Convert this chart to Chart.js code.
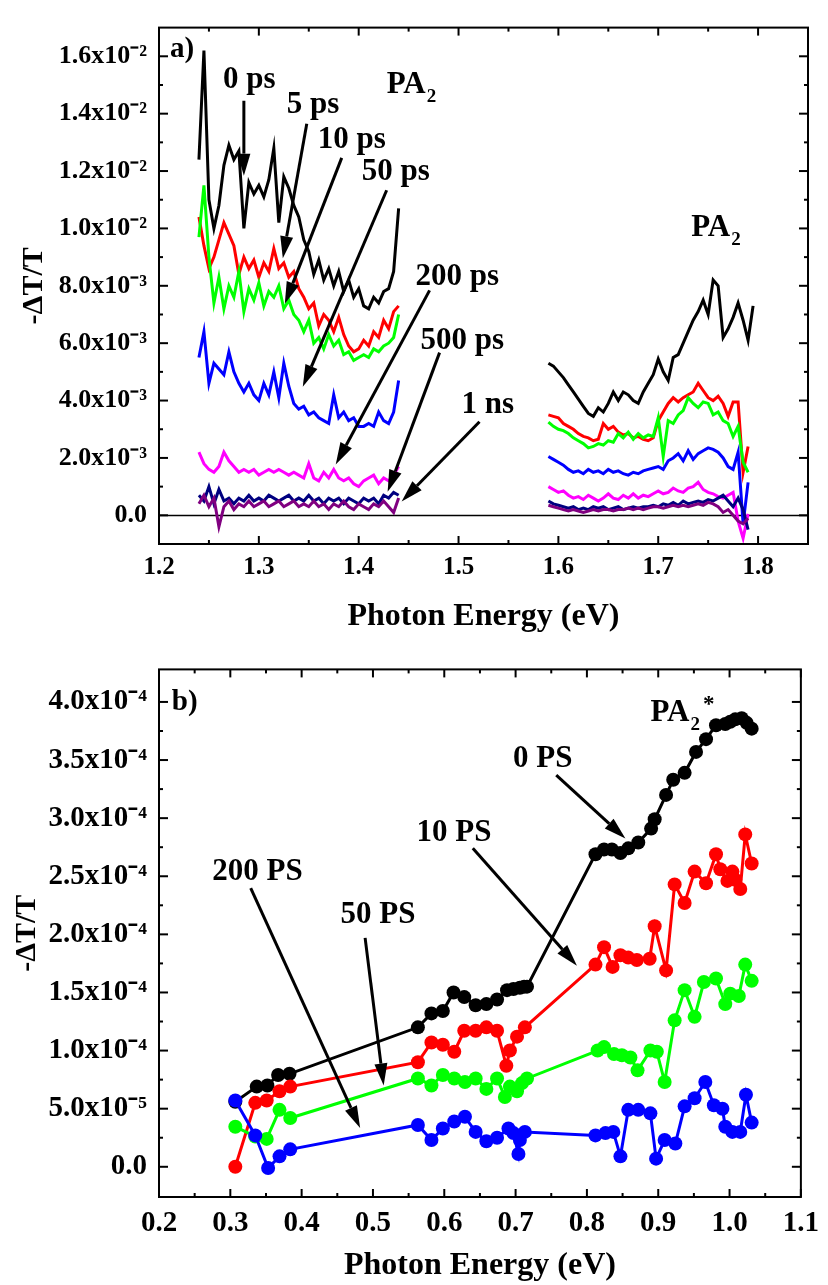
<!DOCTYPE html>
<html>
<head>
<meta charset="utf-8">
<script src="https://cdn.jsdelivr.net/npm/chart.js@4.4.1/dist/chart.umd.min.js"></script>
<style>
  body { margin: 0; background: #fff; }
  canvas { display: block; }
</style>
</head>
<body>
<canvas id="chartA" width="828" height="640"></canvas>
<canvas id="chartB" width="828" height="645"></canvas>
<script>
// ---- panel a: -dT/T spectra, values in units of 1e-3 ----
const energyLeft = [1.240,1.245,1.250,1.255,1.260,1.265,1.270,1.275,1.280,1.285,1.290,1.295,1.300,1.305,1.310,1.315,1.320,1.325,1.330,1.335,
  1.340,1.345,1.350,1.355,1.360,1.365,1.370,1.375,1.380,1.385,1.390,1.395,1.400,1.405,1.410,1.415,1.420,1.425,1.430,1.435,1.440];
const energyRight = [1.590,1.595,1.600,1.605,1.610,1.615,1.620,1.625,1.630,1.635,1.640,1.645,1.650,1.655,1.660,1.665,1.670,1.675,1.680,1.685,
  1.690,1.695,1.700,1.705,1.710,1.715,1.720,1.725,1.730,1.735,1.740,1.745,1.750,1.755,1.760,1.765,1.770,1.775,1.780,1.785,1.790,1.795];

const ps0Left   = [12.4,16.2,11.0,10.0,10.8,12.2,12.9,12.4,12.7,10.0,11.6,11.2,11.5,11.1,11.7,12.8,10.2,11.8,11.4,10.8,10.4,9.6,9.2,8.4,8.9,8.2,8.6,8.0,8.5,7.8,8.2,7.6,7.9,7.3,7.2,7.6,7.4,7.8,7.9,8.5,10.7];
const ps5Left   = [10.4,9.4,8.6,9.0,9.6,10.2,9.8,9.4,8.4,9.0,8.6,8.9,8.3,8.8,8.5,9.3,8.6,8.8,8.3,8.5,7.9,7.6,7.2,7.4,6.6,7.0,6.8,6.4,6.9,6.3,5.9,5.7,5.8,6.1,5.9,6.4,6.2,6.8,6.5,7.1,7.3];
const ps10Left  = [9.7,11.5,9.0,7.4,8.3,7.2,8.0,7.6,8.5,7.1,7.9,7.5,8.1,7.3,7.8,7.6,8.0,7.2,7.5,7.0,6.8,6.4,6.8,6.0,6.2,5.8,6.3,5.9,6.1,5.6,5.7,5.4,5.5,5.6,5.5,5.8,5.7,5.9,6.0,6.2,7.0];
const ps50Left  = [5.5,6.4,4.6,5.3,5.1,4.9,5.7,5.0,4.6,4.3,4.6,4.2,4.0,4.6,4.2,5.0,4.1,5.3,4.5,3.9,3.7,3.8,3.5,3.6,3.4,3.3,3.2,4.2,3.4,3.6,3.3,3.4,3.1,3.1,3.2,3.1,3.6,3.3,3.2,3.6,4.7];
const ps200Left = [2.2,1.8,1.6,1.5,1.7,2.2,1.9,1.7,1.5,1.6,1.5,1.6,1.4,1.5,1.6,1.5,1.6,1.5,1.4,1.5,1.4,1.3,1.8,1.3,1.2,1.5,1.3,1.6,1.3,1.2,1.3,1.1,1.0,1.2,1.3,1.4,1.1,1.3,1.2,1.4,1.7];
const ps500Left = [0.7,0.5,1.0,0.4,0.9,0.5,0.6,0.4,0.6,0.5,0.7,0.5,0.6,0.5,0.7,0.6,0.5,0.6,0.7,0.5,0.6,0.5,0.7,0.5,0.6,0.4,0.6,0.5,0.6,0.4,0.6,0.5,0.4,0.6,0.5,0.6,0.4,0.7,0.6,0.8,0.7];
const ns1Left   = [0.4,0.7,0.3,0.6,-0.4,0.3,0.5,0.2,0.4,0.3,0.5,0.3,0.4,0.5,0.3,0.4,0.5,0.3,0.4,0.5,0.3,0.4,0.3,0.5,0.3,0.4,0.2,0.4,0.3,0.5,0.3,0.2,0.4,0.3,0.2,0.4,0.3,0.5,0.3,0.1,0.6];

const ps0Right   = [5.3,5.2,5.0,4.8,4.55,4.3,4.05,3.8,3.55,3.45,3.75,3.6,3.9,4.3,4.0,4.3,4.2,4.0,3.9,4.3,4.6,4.9,5.45,5.0,4.7,5.5,5.6,6.0,6.4,6.8,7.1,7.5,7.0,8.2,8.0,6.2,6.5,6.9,7.4,6.8,6.1,7.3];
const ps5Right   = [3.5,3.45,3.4,3.2,3.1,3.0,2.85,2.75,2.7,2.6,2.65,3.2,3.0,3.1,2.9,2.8,2.85,2.7,2.75,2.65,2.6,2.7,3.3,3.6,3.9,4.1,3.95,4.1,4.2,4.3,4.6,4.35,4.1,4.0,4.15,3.9,3.45,3.95,3.95,1.5,2.4,null];
const ps10Right  = [3.25,3.1,3.0,2.95,2.85,2.7,2.6,2.5,2.35,2.4,2.5,2.45,2.6,2.55,2.85,2.7,2.9,2.65,2.85,2.7,2.8,2.75,3.4,2.05,3.3,3.2,3.5,3.65,4.1,3.9,3.75,3.95,3.9,3.5,3.6,3.3,3.2,2.75,3.1,1.85,1.5,null];
const ps50Right  = [2.05,1.95,1.85,1.75,1.6,1.5,1.55,1.45,1.6,1.5,1.55,1.45,1.6,1.5,1.55,1.45,1.4,1.5,1.45,1.55,1.6,1.65,1.7,1.6,1.9,2.0,2.15,1.9,2.25,1.95,2.15,2.25,2.35,2.3,2.2,2.0,1.7,1.6,2.2,-0.3,1.15,null];
const ps200Right = [1.0,0.9,0.8,0.85,0.7,0.6,0.65,0.55,0.7,0.6,0.5,0.6,0.75,0.6,0.55,0.7,0.6,0.75,0.6,0.7,0.65,0.75,0.85,0.75,0.8,0.95,0.85,0.8,0.95,1.0,1.15,0.9,0.8,0.75,0.65,0.6,0.7,0.8,-0.2,-0.8,0.05,null];
const ps500Right = [0.5,0.4,0.35,0.3,0.25,0.3,0.2,0.25,0.2,0.3,0.25,0.3,0.2,0.25,0.3,0.2,0.25,0.3,0.25,0.3,0.3,0.35,0.3,0.4,0.35,0.45,0.35,0.5,0.4,0.45,0.5,0.45,0.55,0.5,0.6,0.7,0.5,0.3,0.6,0.2,-0.5,null];
const ns1Right   = [0.35,0.3,0.25,0.2,0.15,0.2,0.15,0.1,0.15,0.2,0.15,0.2,0.2,0.15,0.2,0.2,0.25,0.2,0.25,0.2,0.25,0.3,0.3,0.25,0.3,0.35,0.3,0.35,0.3,0.35,0.4,0.35,0.45,0.4,0.3,0.1,0.2,0.0,-0.2,-0.3,-0.1,null];

const yTicksA = [0, 2, 4, 6, 8, 10, 12, 14, 16];
const yLabelsA = ['0.0', '2.0x10⁻³', '4.0x10⁻³', '6.0x10⁻³', '8.0x10⁻³', '1.0x10⁻²', '1.2x10⁻²', '1.4x10⁻²', '1.6x10⁻²'];
const xTicksA = [1.2, 1.3, 1.4, 1.5, 1.6, 1.7, 1.8];

// ---- panel b: -dT/T with markers, values in units of 1e-5 ----
const energyB0 = [0.307,0.337,0.352,0.367,0.383,0.563,0.582,0.598,0.613,0.628,0.644,0.659,0.674,0.688,0.697,0.706,0.712,0.716,
  0.812,0.824,0.835,0.847,0.858,0.872,0.890,0.895,0.911,0.921,0.937,0.953,0.967,0.981,0.994,1.001,1.008,1.017,1.024,1.031];
const ps0B = [5.6,6.9,7.0,7.9,8.0,12.0,13.2,13.4,15.0,14.6,13.9,14.0,14.4,15.2,15.3,15.4,15.5,15.5,
  26.9,27.3,27.3,27.0,27.4,27.9,29.1,29.9,32.0,33.3,33.9,35.7,36.8,38.0,38.1,38.3,38.5,38.6,38.2,37.7];

const energyB10 = [0.307,0.335,0.351,0.369,0.384,0.563,0.582,0.598,0.614,0.628,0.644,0.659,0.674,0.687,0.692,0.702,0.713,
  0.812,0.824,0.836,0.847,0.858,0.870,0.888,0.895,0.911,0.923,0.937,0.951,0.967,0.981,0.987,0.997,1.004,1.008,1.015,1.022,1.031];
const ps10B = [0.0,5.5,5.7,6.5,6.9,9.0,10.7,10.5,9.9,11.7,11.7,12.0,11.7,8.7,10.0,11.2,12.0,
  17.4,18.9,17.2,18.2,18.0,17.8,17.9,20.7,16.9,24.3,22.7,25.4,24.4,26.9,25.6,24.6,25.4,24.7,23.9,28.6,26.1];

const energyB50 = [0.307,0.335,0.351,0.369,0.384,0.563,0.582,0.598,0.614,0.629,0.644,0.659,0.674,0.685,0.692,0.702,0.709,0.716,
  0.815,0.824,0.838,0.849,0.861,0.871,0.889,0.898,0.909,0.923,0.937,0.951,0.964,0.981,0.994,1.001,1.013,1.022,1.031];
const ps50B = [3.45,2.6,2.4,4.9,4.2,7.6,7.0,7.9,7.6,7.3,7.6,6.7,7.6,6.0,6.9,6.5,7.2,7.6,
  10.0,10.3,9.7,9.6,9.4,8.3,10.0,9.9,7.3,12.6,15.2,12.9,15.9,16.2,14.0,14.9,14.7,17.4,16.0];

const energyB200 = [0.307,0.335,0.353,0.369,0.384,0.563,0.582,0.598,0.614,0.629,0.644,0.659,0.674,0.690,0.697,0.704,0.706,0.713,
  0.812,0.826,0.837,0.847,0.858,0.872,0.889,0.897,0.909,0.924,0.937,0.951,0.966,0.978,0.990,0.994,1.004,1.015,1.023,1.031];
const ps200B = [5.7,2.7,-0.1,0.9,1.5,3.6,2.3,3.3,3.9,4.3,3.0,2.2,2.5,3.3,2.9,1.1,2.3,3.0,
  2.7,2.9,3.0,0.9,4.9,4.9,4.6,0.7,2.3,2.0,5.2,5.9,7.3,5.3,5.0,3.45,3.0,3.0,6.2,3.8];

const yTicksB = [0, 5, 10, 15, 20, 25, 30, 35, 40];
const yLabelsB = ['0.0', '5.0x10⁻⁵', '1.0x10⁻⁴', '1.5x10⁻⁴', '2.0x10⁻⁴', '2.5x10⁻⁴', '3.0x10⁻⁴', '3.5x10⁻⁴', '4.0x10⁻⁴'];
const xTicksB = [0.2, 0.3, 0.4, 0.5, 0.6, 0.7, 0.8, 0.9, 1.0, 1.1];

const SERIF = "'Liberation Serif', 'Times New Roman', serif";
Chart.defaults.font.family = SERIF;
Chart.defaults.font.weight = 'bold';
Chart.defaults.color = '#000';

// two probe windows of panel a, joined with a gap so the line breaks
function joinSegments(left, right) {
  const pts = left.map((v, i) => ({x: energyLeft[i], y: v}));
  pts.push({x: 1.515, y: null});
  right.forEach((v, i) => pts.push({x: energyRight[i], y: v}));
  return pts;
}
function pairs(xs, ys) {
  return ys.map((v, i) => ({x: xs[i], y: v}));
}

// box frame with inward major/minor ticks on all four sides
const frameTicks = {
  id: 'frameTicks',
  beforeDatasetsDraw(chart, args, opts) {
    if (!opts.zero) return;
    const {ctx, chartArea: a, scales: {y}} = chart;
    const py = Math.round(y.getPixelForValue(0)) + 0.5;
    ctx.save();
    ctx.strokeStyle = '#000';
    ctx.lineWidth = 1.5;
    ctx.beginPath();
    ctx.moveTo(a.left, py);
    ctx.lineTo(a.right, py);
    ctx.stroke();
    ctx.restore();
  },
  afterDatasetsDraw(chart, args, opts) {
    const {ctx, chartArea: a, scales: {x, y}} = chart;
    ctx.save();
    ctx.strokeStyle = '#000';
    ctx.lineWidth = 2;
    ctx.strokeRect(a.left, a.top, a.right - a.left, a.bottom - a.top);
    const seg = (x1, y1, x2, y2) => {
      ctx.beginPath(); ctx.moveTo(x1, y1); ctx.lineTo(x2, y2); ctx.stroke();
    };
    const xt = (vals, len) => vals.forEach(v => {
      const px = x.getPixelForValue(v);
      seg(px, a.bottom, px, a.bottom - len);
      seg(px, a.top, px, a.top + len);
    });
    const yt = (vals, len) => vals.forEach(v => {
      const py = y.getPixelForValue(v);
      seg(a.left, py, a.left + len, py);
      seg(a.right, py, a.right - len, py);
    });
    xt(opts.xMajor, 8); xt(opts.xMinor, 4);
    yt(opts.yMajor, 9); yt(opts.yMinor, 4);
    ctx.restore();
  }
};

function drawArrow(ctx, x1, y1, x2, y2) {
  const ang = Math.atan2(y2 - y1, x2 - x1);
  const len = 22, half = 6.5;
  const bx = x2 - len * Math.cos(ang), by = y2 - len * Math.sin(ang);
  ctx.beginPath(); ctx.moveTo(x1, y1); ctx.lineTo(bx, by); ctx.stroke();
  ctx.beginPath();
  ctx.moveTo(x2, y2);
  ctx.lineTo(bx + half * Math.sin(ang), by - half * Math.cos(ang));
  ctx.lineTo(bx - half * Math.sin(ang), by + half * Math.cos(ang));
  ctx.closePath();
  ctx.fill();
}

// delay labels and arrows, placed in data coordinates
const notes = {
  id: 'notes',
  afterDatasetsDraw(chart, args, opts) {
    const {ctx, scales: {x, y}} = chart;
    ctx.save();
    ctx.fillStyle = '#000';
    ctx.strokeStyle = '#000';
    ctx.lineWidth = 3;
    opts.arrows.forEach(a => drawArrow(ctx, x.getPixelForValue(a[0]), y.getPixelForValue(a[1]),
      x.getPixelForValue(a[2]), y.getPixelForValue(a[3])));
    ctx.textBaseline = 'alphabetic';
    ctx.textAlign = 'left';
    opts.labels.forEach(l => {
      const size = l.size || 31;
      let px = x.getPixelForValue(l.x);
      const py = y.getPixelForValue(l.y);
      ctx.font = `bold ${size}px ${SERIF}`;
      ctx.fillText(l.text, px, py);
      px += ctx.measureText(l.text).width;
      if (l.sub) {
        ctx.font = `bold ${Math.round(size * 0.62)}px ${SERIF}`;
        ctx.fillText(l.sub, px + 1, py + 9);
        px += ctx.measureText(l.sub).width + 1;
      }
      if (l.sup) {
        ctx.font = `bold ${Math.round(size * 0.75)}px ${SERIF}`;
        ctx.fillText(l.sup, px + 3, py - 10);
      }
    });
    ctx.restore();
  }
};

const seriesA = [
  {label: '0 ps', color: '#000000', left: ps0Left, right: ps0Right},
  {label: '5 ps', color: '#ff0000', left: ps5Left, right: ps5Right},
  {label: '10 ps', color: '#00ff00', left: ps10Left, right: ps10Right},
  {label: '50 ps', color: '#0000ff', left: ps50Left, right: ps50Right},
  {label: '200 ps', color: '#ff00ff', left: ps200Left, right: ps200Right},
  {label: '500 ps', color: '#000080', left: ps500Left, right: ps500Right},
  {label: '1 ns', color: '#800080', left: ns1Left, right: ns1Right}
];

new Chart(document.getElementById('chartA'), {
  type: 'line',
  data: {
    datasets: seriesA.map(s => ({
      label: s.label,
      data: joinSegments(s.left, s.right),
      borderColor: s.color,
      borderWidth: 3,
      pointRadius: 0,
      tension: 0,
      fill: false
    })).reverse()
  },
  options: {
    responsive: false,
    animation: false,
    layout: {padding: {top: 13, right: 20, left: 0, bottom: 0}},
    plugins: {
      legend: {display: false},
      tooltip: {enabled: false},
      frameTicks: {
        zero: true,
        xMajor: xTicksA,
        xMinor: [1.25, 1.35, 1.45, 1.55, 1.65, 1.75],
        yMajor: yTicksA,
        yMinor: [1, 3, 5, 7, 9, 11, 13, 15]
      },
      notes: {
        labels: [
          {text: 'a)', x: 1.211, y: 15.98, size: 29},
          {text: '0 ps', x: 1.264, y: 14.89},
          {text: '5 ps', x: 1.328, y: 14.04},
          {text: '10 ps', x: 1.359, y: 12.79},
          {text: '50 ps', x: 1.403, y: 11.68},
          {text: 'PA', sub: '2', x: 1.428, y: 14.72},
          {text: '200 ps', x: 1.457, y: 8.04},
          {text: '500 ps', x: 1.462, y: 5.81},
          {text: '1 ns', x: 1.503, y: 3.57},
          {text: 'PA', sub: '2', x: 1.733, y: 9.74}
        ],
        arrows: [
          [1.285, 14.45, 1.285, 11.84],
          [1.348, 13.65, 1.324, 8.96],
          [1.383, 12.46, 1.326, 7.37],
          [1.428, 11.33, 1.344, 4.48],
          [1.471, 7.84, 1.377, 1.77],
          [1.481, 5.67, 1.429, 0.82],
          [1.521, 3.26, 1.443, 0.48]
        ]
      }
    },
    scales: {
      x: {
        type: 'linear',
        min: 1.2,
        max: 1.85,
        afterBuildTicks: s => { s.ticks = xTicksA.map(v => ({value: v})); },
        afterFit: s => { s.height = 96; },
        grid: {display: false, drawTicks: false},
        border: {display: false},
        ticks: {padding: 9, autoSkip: false, maxRotation: 0, font: {size: 25, weight: 'bold'},
          callback: v => v.toFixed(1)},
        title: {display: true, text: 'Photon Energy (eV)', font: {size: 32, weight: 'bold'}, padding: {top: 0, bottom: 4}}
      },
      y: {
        min: -1,
        max: 17,
        afterBuildTicks: s => { s.ticks = yTicksA.map(v => ({value: v})); },
        afterFit: s => { s.width = 159; },
        grid: {display: false, drawTicks: false},
        border: {display: false},
        ticks: {padding: 12, autoSkip: false, font: {size: 26, weight: 'bold'},
          callback: (v, i) => yLabelsA[i]},
        title: {display: true, text: '-ΔT/T', font: {size: 30, weight: 'bold'}, padding: {top: 16, bottom: 0}}
      }
    }
  },
  plugins: [frameTicks, notes]
});

const seriesB = [
  {label: '200 PS', color: '#0000ff', xs: energyB200, ys: ps200B},
  {label: '50 PS', color: '#00ff00', xs: energyB50, ys: ps50B},
  {label: '10 PS', color: '#ff0000', xs: energyB10, ys: ps10B},
  {label: '0 PS', color: '#000000', xs: energyB0, ys: ps0B}
];

new Chart(document.getElementById('chartB'), {
  type: 'line',
  data: {
    datasets: seriesB.map(s => ({
      label: s.label,
      data: pairs(s.xs, s.ys),
      borderColor: s.color,
      backgroundColor: s.color,
      pointBackgroundColor: s.color,
      pointBorderColor: s.color,
      borderWidth: 3,
      pointRadius: 7,
      pointBorderWidth: 0,
      tension: 0,
      fill: false
    }))
  },
  options: {
    responsive: false,
    animation: false,
    layout: {padding: {top: 27, right: 20, left: 0, bottom: 0}},
    plugins: {
      legend: {display: false},
      tooltip: {enabled: false},
      frameTicks: {
        zero: false,
        xMajor: xTicksB,
        xMinor: [0.25, 0.35, 0.45, 0.55, 0.65, 0.75, 0.85, 0.95, 1.05],
        yMajor: yTicksB,
        yMinor: [2.5, 7.5, 12.5, 17.5, 22.5, 27.5, 32.5, 37.5]
      },
      notes: {
        labels: [
          {text: 'b)', x: 0.218, y: 39.3, size: 29},
          {text: '200 PS', x: 0.2747, y: 24.7},
          {text: '50 PS', x: 0.4545, y: 21.0},
          {text: '10 PS', x: 0.561, y: 28.0},
          {text: '0 PS', x: 0.6965, y: 34.4},
          {text: 'PA', sub: '2', sup: '*', x: 0.889, y: 38.4}
        ],
        arrows: [
          [0.3286, 23.97, 0.482, 3.34],
          [0.489, 19.7, 0.515, 7.0],
          [0.640, 27.4, 0.786, 17.3],
          [0.757, 33.7, 0.854, 28.25]
        ]
      }
    },
    scales: {
      x: {
        type: 'linear',
        min: 0.2,
        max: 1.1,
        afterBuildTicks: s => { s.ticks = xTicksB.map(v => ({value: v})); },
        afterFit: s => { s.height = 88; },
        grid: {display: false, drawTicks: false},
        border: {display: false},
        ticks: {padding: 9, autoSkip: false, maxRotation: 0, font: {size: 29, weight: 'bold'},
          callback: v => v.toFixed(1)},
        title: {display: true, text: 'Photon Energy (eV)', font: {size: 32, weight: 'bold'}, padding: {top: 0, bottom: 0}}
      },
      y: {
        min: -2.6,
        max: 42.8,
        afterBuildTicks: s => { s.ticks = yTicksB.map(v => ({value: v})); },
        afterFit: s => { s.width = 159; },
        grid: {display: false, drawTicks: false},
        border: {display: false},
        ticks: {padding: 12, autoSkip: false, font: {size: 29, weight: 'bold'},
          callback: (v, i) => yLabelsB[i]},
        title: {display: true, text: '-ΔT/T', font: {size: 30, weight: 'bold'}, padding: {top: 9, bottom: 0}}
      }
    }
  },
  plugins: [frameTicks, notes]
});
</script>
</body>
</html>
